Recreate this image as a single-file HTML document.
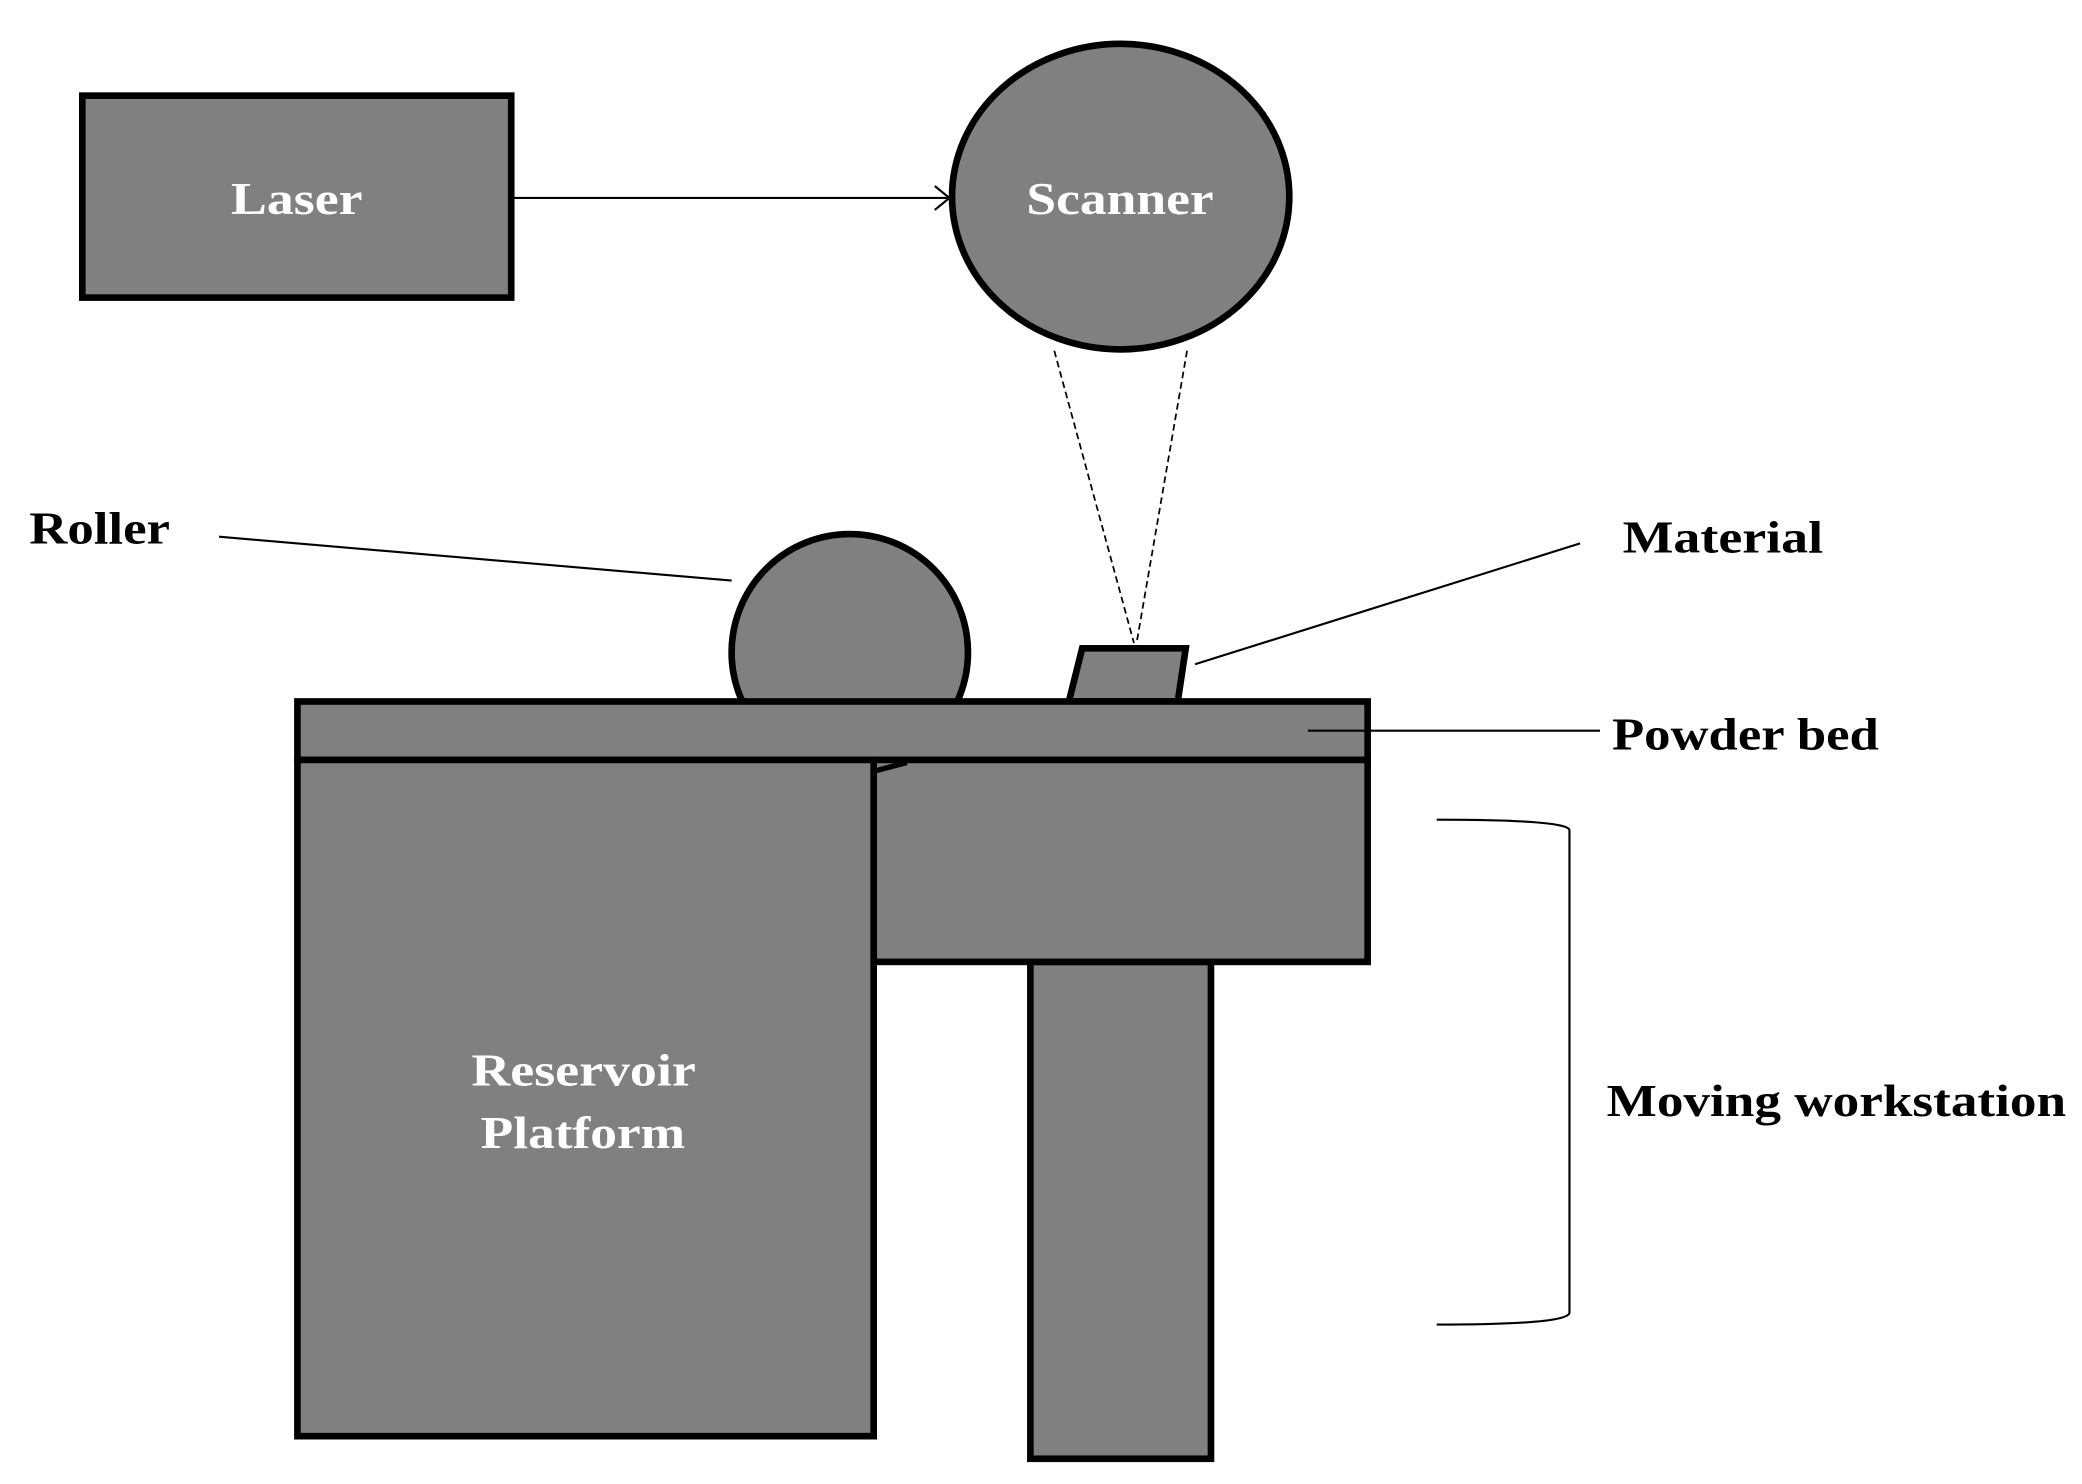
<!DOCTYPE html>
<html><head><meta charset="utf-8"><style>html,body{margin:0;padding:0;background:#fff}svg{display:block}</style></head>
<body>
<svg width="2082" height="1484" viewBox="0 0 1568 1117" preserveAspectRatio="none" xmlns="http://www.w3.org/2000/svg" font-family="Liberation Serif, serif" font-weight="bold">
<g stroke="#000" stroke-width="5" fill="#808080" stroke-linejoin="miter">
<rect x="62" y="72" width="323" height="152"/>
<ellipse cx="844" cy="148" rx="127" ry="115"/>
<circle cx="640" cy="491" r="89"/>
<polygon points="805,528 815,488 893,488 887,528"/>
<rect x="776" y="724" width="136" height="374"/>
<rect x="224" y="528" width="806" height="44"/>
<rect x="658" y="572" width="372" height="152"/>
<rect x="224" y="572" width="434" height="509"/>
</g>
<path d="M660 580 L683 574" stroke="#000" stroke-width="4"/>
<g stroke="#000" fill="none" stroke-width="1.6">
<line x1="387" y1="149" x2="715" y2="149"/>
<polyline points="704,140 715,149 704,158"/>
<line x1="165" y1="404" x2="551" y2="437"/>
<line x1="900" y1="500" x2="1190" y2="409"/>
<line x1="985" y1="550" x2="1205" y2="550"/>
<path d="M1082 617 Q1182 617 1182 625 L1182 988 Q1182 997 1082 997"/>
</g>
<g stroke="#000" fill="none" stroke-width="1.3" stroke-dasharray="5,3">
<line x1="794" y1="264" x2="854" y2="484"/>
<line x1="894" y1="264" x2="856" y2="484"/>
</g>
<g font-size="34" fill="#fff" lengthAdjust="spacingAndGlyphs">
<text x="174" y="161" textLength="99" lengthAdjust="spacingAndGlyphs">Laser</text>
<text x="773" y="161" textLength="141" lengthAdjust="spacingAndGlyphs">Scanner</text>
<text x="355" y="817" textLength="169" lengthAdjust="spacingAndGlyphs">Reservoir</text>
<text x="362" y="864" textLength="154" lengthAdjust="spacingAndGlyphs">Platform</text>
</g>
<g font-size="34" fill="#000">
<text x="22" y="409" textLength="106" lengthAdjust="spacingAndGlyphs">Roller</text>
<text x="1222" y="416" textLength="151" lengthAdjust="spacingAndGlyphs">Material</text>
<text x="1214" y="564" textLength="201" lengthAdjust="spacingAndGlyphs">Powder bed</text>
<text x="1210" y="840" textLength="346" lengthAdjust="spacingAndGlyphs">Moving workstation</text>
</g>
</svg>
</body></html>
